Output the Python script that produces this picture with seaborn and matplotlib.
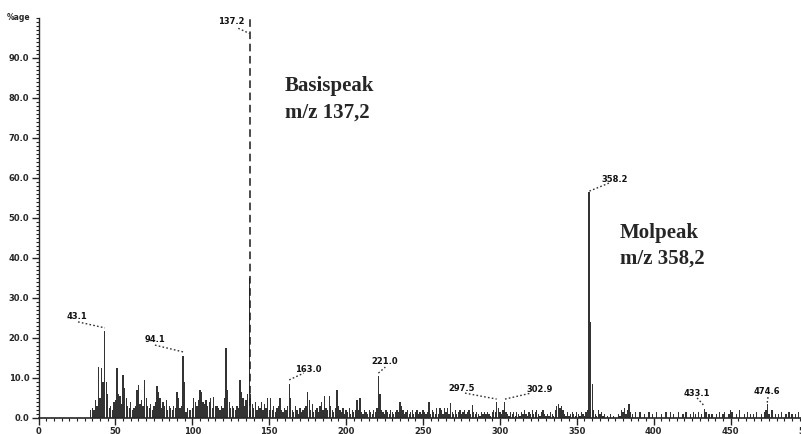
import matplotlib
matplotlib.use("Agg")
import matplotlib.pyplot as plt
from matplotlib.ticker import MultipleLocator, FormatStrFormatter
import seaborn as sns
import pandas as pd

# low mass range, one intensity per integer m/z starting at 30
low_start = 30
low_int = [
    0, 0, 0, 0, 2.0, 2.5, 2.0, 4.5, 3.0, 12.7,
    5.0, 12.5, 9.0, 21.7, 9.0, 6.0, 2.5, 3.0, 2.0, 4.0,
    4.5, 12.5, 6.0, 5.5, 3.5, 10.7, 7.5, 5.0, 3.0, 2.5,
    4.0, 2.0, 2.5, 3.0, 7.0, 8.2, 3.5, 4.5, 3.0, 9.3,
    5.0, 3.0, 2.5, 3.5, 2.0, 3.0, 4.0, 7.8, 6.5, 5.0,
    2.5, 4.0, 3.0, 4.5, 2.0, 3.0, 2.5, 2.0, 3.0, 2.5,
    6.3, 5.0, 2.5, 3.0, 15.5, 9.0, 1.5, 2.5, 2.0, 2.0,
    2.5, 5.0, 4.0, 3.0, 4.5, 7.0, 6.5, 4.0, 3.5, 4.5,
    3.0, 4.0, 5.0, 2.5, 5.2, 3.0, 3.0, 2.5, 2.0, 3.0,
    2.5, 5.0, 17.5, 7.0, 4.0, 2.5, 3.0, 2.5, 2.0, 3.0,
    2.5, 9.5, 6.5, 5.0, 3.0, 4.5, 6.0, 35.0, 6.0, 3.5,
    2.5, 4.0, 2.0, 3.0, 2.5, 4.0, 2.0, 3.5, 2.5, 5.0,
    2.0,
]

# higher mass range, one intensity per integer m/z starting at 151
high_start = 151
high_int = [
    5.0, 2.0, 3.0, 1.5, 2.5, 3.0, 5.0, 2.0, 1.5, 2.5,
    2.0, 3.0, 8.3, 5.0, 2.0, 1.5, 3.0, 2.0, 1.0, 2.5,
    1.5, 2.0, 2.5, 3.0, 6.5, 4.5, 2.0, 3.5, 1.5, 2.0,
    2.5, 1.5, 3.0, 4.0, 2.0, 5.5, 2.5, 2.0, 5.5, 3.0,
    2.0, 1.5, 2.5, 7.0, 3.0, 2.0, 1.5, 2.5, 1.0, 2.0,
    1.5, 2.5, 1.0, 2.0, 1.5, 2.0, 4.5, 2.0, 5.0, 1.5,
    1.0, 2.0, 1.5, 1.0, 2.0, 1.5, 1.0, 2.0, 1.5, 2.5,
    10.5, 6.0, 2.0, 1.5, 1.0, 2.0, 1.5, 1.0, 2.0, 1.5,
    1.0, 1.5, 2.0, 1.5, 4.0, 3.0, 2.0, 1.0, 1.5, 2.0,
    1.0, 1.5, 2.0, 1.0, 1.5, 2.0, 1.0, 1.5, 1.0, 2.0,
    1.5, 1.0, 1.5, 4.0, 1.0, 2.0, 1.5, 1.0, 2.5, 1.0,
    2.5, 2.0, 1.0, 2.5, 1.5, 2.5, 1.0, 3.7, 1.5, 1.0,
    2.0, 1.0, 1.5, 2.0, 1.0, 1.5, 2.0, 1.0, 1.5, 2.0,
    1.0, 3.2, 1.5, 1.0, 1.5, 1.0, 0.5, 1.5, 1.0, 1.5,
    1.0, 1.5, 1.0, 0.5, 1.5, 2.0, 1.5, 4.0, 2.5, 1.5,
    1.0, 2.0, 4.0, 1.5, 1.0, 0.5, 1.5, 1.0, 1.5, 0.5,
    1.5, 1.0, 0.5, 1.5, 1.0, 2.0, 1.0, 0.5, 1.5, 1.0,
    2.0, 1.0, 1.5, 2.0, 1.0, 0.5, 1.5, 2.0, 1.0, 0.5,
    1.0, 0.5, 1.5, 1.0, 0.5, 2.0, 3.0, 3.5, 2.5, 3.0,
    2.0, 1.0, 0.5, 1.5, 0.5, 1.0, 1.5, 1.0, 0.5, 1.5,
    1.0, 0.5, 1.5, 1.0, 0.5, 1.5, 2.0, 56.5, 24.0, 8.5,
    2.0, 1.0, 0.5, 2.0, 1.0, 1.5, 0.5, 1.0, 0, 0.5,
    0, 1.0, 0, 0.5, 0, 0, 1.0, 0.5, 2.0, 1.5,
    2.5, 1.0, 2.0, 3.5, 1.5, 1.0, 0, 1.5, 0, 0,
    1.5, 0, 0, 1.0, 0, 0, 1.5, 0, 1.0, 0,
    0, 1.5, 0, 0, 1.0, 0, 0, 1.5, 0, 0,
    1.5, 0, 1.0, 0, 0, 1.5, 0, 0, 1.0, 0,
    1.5, 0, 0, 1.0, 0, 1.5, 1.0, 0, 1.5, 0,
    1.0, 0, 2.2, 1.5, 0, 1.0, 0, 1.0, 0, 0,
    1.0, 0, 1.5, 0, 1.0, 1.5, 0, 0, 1.0, 2.0,
    1.5, 0, 0, 1.0, 0, 2.0, 0, 0, 1.0, 0,
    1.5, 0, 1.0, 0, 1.0, 0, 1.5, 0, 0, 1.0,
    0, 1.5, 2.0, 3.5, 1.0, 0, 2.0, 0, 1.0, 0,
    1.0, 0, 1.5, 0, 0, 1.0, 0, 1.5, 0, 1.0,
    0, 1.0, 0, 1.5, 0, 1.0, 0, 1.0, 0, 0,
]

base_mz = 137.2
base_int = 100.0

peak_labels = ["43.1", "94.1", "137.2", "163.0", "221.0",
               "297.5", "302.9", "358.2", "433.1", "474.6"]


def main():
    mz = list(range(low_start, low_start + len(low_int))) + \
        list(range(high_start, high_start + len(high_int)))
    spectrum = pd.DataFrame({"mz": mz, "intensity": low_int + high_int})

    sns.set_style("ticks")
    plt.rcParams["font.family"] = ["DejaVu Sans"]

    fig = plt.figure(figsize=(8.01, 4.34), dpi=100)
    ax = fig.add_axes([38.5 / 801, 16.5 / 434, 769 / 801, 400 / 434])

    sns.histplot(data=spectrum, x="mz", weights="intensity", discrete=True,
                 shrink=0.85, color="#333333", alpha=1, linewidth=0, ax=ax)

    # base peak drawn dashed as in the scan
    ax.vlines(base_mz, 0, base_int, colors="#1a1a1a", linewidth=1.1,
              linestyles=(0, (5, 3)))

    # peak labels with dotted leaders (text pos, leader start, leader end)
    layout = {
        "43.1": ((24.8, 25.2), (25.7, 23.9), (43.2, 22.4)),
        "94.1": ((75.7, 19.4), (75.7, 18.1), (94.0, 16.4)),
        "137.2": ((125.6, 98.9), (129.9, 97.3), (137.2, 96.0)),
        "163.0": ((175.4, 11.9), (163.0, 9.4), (172.5, 11.1)),
        "221.0": ((225.3, 13.9), (221.0, 11.1), (225.5, 12.6)),
        "297.5": ((275.2, 7.3), (277.3, 6.1), (297.9, 4.6)),
        "302.9": ((326.1, 7.1), (303.3, 4.6), (320.2, 6.1)),
        "358.2": ((374.8, 59.6), (358.2, 56.6), (370.9, 58.6)),
        "433.1": ((428.0, 6.1), (428.2, 4.9), (433.1, 2.8)),
        "474.6": ((473.5, 6.5), (474.3, 5.1), (473.8, 3.6)),
    }
    for lab in peak_labels:
        (tx, ty), (x0, y0), (x1, y1) = layout[lab]
        ax.text(tx, ty, lab, fontsize=6, fontweight="bold",
                ha="center", va="center", color="#111111")
        ax.plot([x0, x1], [y0, y1], linestyle=(0, (1.2, 1.6)),
                color="#333333", linewidth=1.0)

    serif = ["Liberation Serif", "DejaVu Serif"]
    ax.text(160.3, 81.6, "Basispeak", family=serif, fontsize=15,
            fontweight="bold", va="baseline")
    ax.text(160.3, 75.1, "m/z 137,2", family=serif, fontsize=15,
            fontweight="bold", va="baseline")
    ax.text(378.1, 44.9, "Molpeak", family=serif, fontsize=15,
            fontweight="bold", va="baseline")
    ax.text(378.1, 38.4, "m/z 358,2", family=serif, fontsize=15,
            fontweight="bold", va="baseline")

    ax.text(-5.5, 100, "%age", fontsize=5.5, fontweight="bold",
            ha="right", va="center", clip_on=False)

    ax.set_xlim(0, 500)
    ax.set_ylim(0, 100)
    ax.set_xlabel("")
    ax.set_ylabel("")
    ax.xaxis.set_major_locator(MultipleLocator(50))
    ax.xaxis.set_minor_locator(MultipleLocator(5))
    ax.yaxis.set_major_locator(MultipleLocator(10))
    ax.yaxis.set_minor_locator(MultipleLocator(1))
    ax.yaxis.set_major_formatter(FormatStrFormatter("%.1f"))
    ax.set_yticks([v for v in range(0, 100, 10)])
    ax.tick_params(axis="both", which="major", length=5, width=1,
                   labelsize=6, pad=1.5, color="#222222")
    ax.tick_params(axis="both", which="minor", length=2.5, width=0.8,
                   color="#222222")
    for lbl in ax.get_xticklabels() + ax.get_yticklabels():
        lbl.set_fontweight("bold")

    sns.despine(ax=ax)
    ax.spines["left"].set_linewidth(1.0)
    ax.spines["bottom"].set_linewidth(1.2)

    fig.savefig("out.png", dpi=100)


if __name__ == "__main__":
    main()
